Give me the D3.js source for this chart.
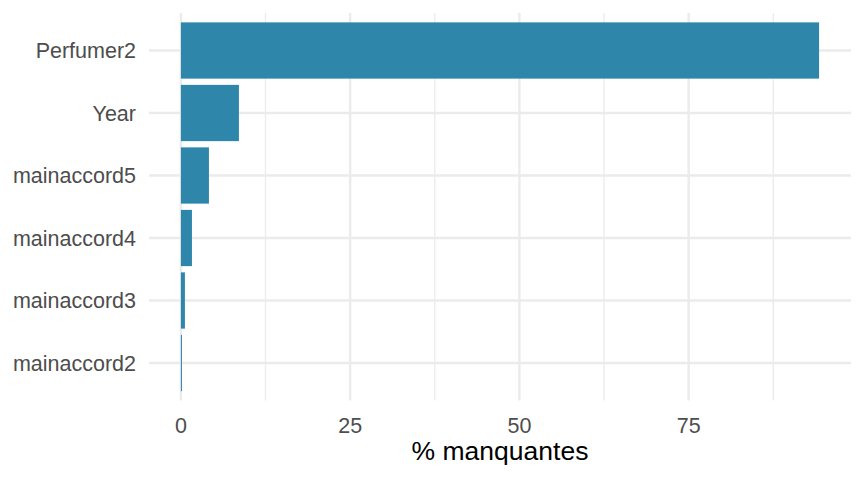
<!DOCTYPE html>
<html>
<head>
<meta charset="utf-8">
<script src="https://cdn.jsdelivr.net/npm/d3@7"></script>
<style>
  html, body { margin: 0; padding: 0; background: #fff; }
  svg { display: block; }
  text { font-family: "Liberation Sans", Arial, Helvetica, sans-serif; }
</style>
</head>
<body>
<svg id="chart" width="864" height="480"></svg>
<script>
const categories = ["Perfumer2", "Year", "mainaccord5", "mainaccord4", "mainaccord3", "mainaccord2"];
const values = [94.27, 8.57, 4.14, 1.63, 0.59, 0.15];
const majorTicks = [0, 25, 50, 75];
const minorTicks = [12.5, 37.5, 62.5, 87.5];
const xTitle = "% manquantes";

const W = 864, H = 480;
const panel = { left: 149, right: 851, top: 13, bottom: 400.5 };
const svg = d3.select("#chart");

const maxV = d3.max(values);
const x = d3.scaleLinear()
  .domain([0 - 0.05 * maxV, maxV * 1.05])
  .range([panel.left, panel.right]);

const y = d3.scalePoint()
  .domain(categories)
  .range([panel.top, panel.bottom])
  .padding(0.6);
const barH = y.step() * 0.9;

const grid = svg.append("g");
grid.selectAll("line.minor").data(minorTicks).enter().append("line")
  .attr("x1", d => x(d)).attr("x2", d => x(d))
  .attr("y1", panel.top).attr("y2", panel.bottom)
  .attr("stroke", "#EBEBEB").attr("stroke-width", 1.3);
grid.selectAll("line.majx").data(majorTicks).enter().append("line")
  .attr("x1", d => x(d)).attr("x2", d => x(d))
  .attr("y1", panel.top).attr("y2", panel.bottom)
  .attr("stroke", "#EBEBEB").attr("stroke-width", 2.4);
grid.selectAll("line.majy").data(categories).enter().append("line")
  .attr("x1", panel.left).attr("x2", panel.right)
  .attr("y1", d => y(d)).attr("y2", d => y(d))
  .attr("stroke", "#EBEBEB").attr("stroke-width", 2.4);

svg.append("g").selectAll("rect").data(categories).enter().append("rect")
  .attr("x", x(0))
  .attr("y", d => y(d) - barH / 2)
  .attr("width", (d, i) => x(values[i]) - x(0))
  .attr("height", barH)
  .attr("fill", "#2E86AB");

svg.append("g").selectAll("text").data(categories).enter().append("text")
  .attr("x", 136)
  .attr("y", d => y(d))
  .attr("dy", "0.36em")
  .attr("text-anchor", "end")
  .attr("font-size", 21.5)
  .attr("fill", "#4D4D4D")
  .text(d => d);

svg.append("g").selectAll("text").data(majorTicks).enter().append("text")
  .attr("x", d => x(d))
  .attr("y", 433)
  .attr("text-anchor", "middle")
  .attr("font-size", 21.5)
  .attr("fill", "#4D4D4D")
  .text(d => d);

svg.append("text")
  .attr("x", (panel.left + panel.right) / 2)
  .attr("y", 460)
  .attr("text-anchor", "middle")
  .attr("font-size", 26.5)
  .attr("fill", "#000")
  .text(xTitle);
</script>
</body>
</html>
